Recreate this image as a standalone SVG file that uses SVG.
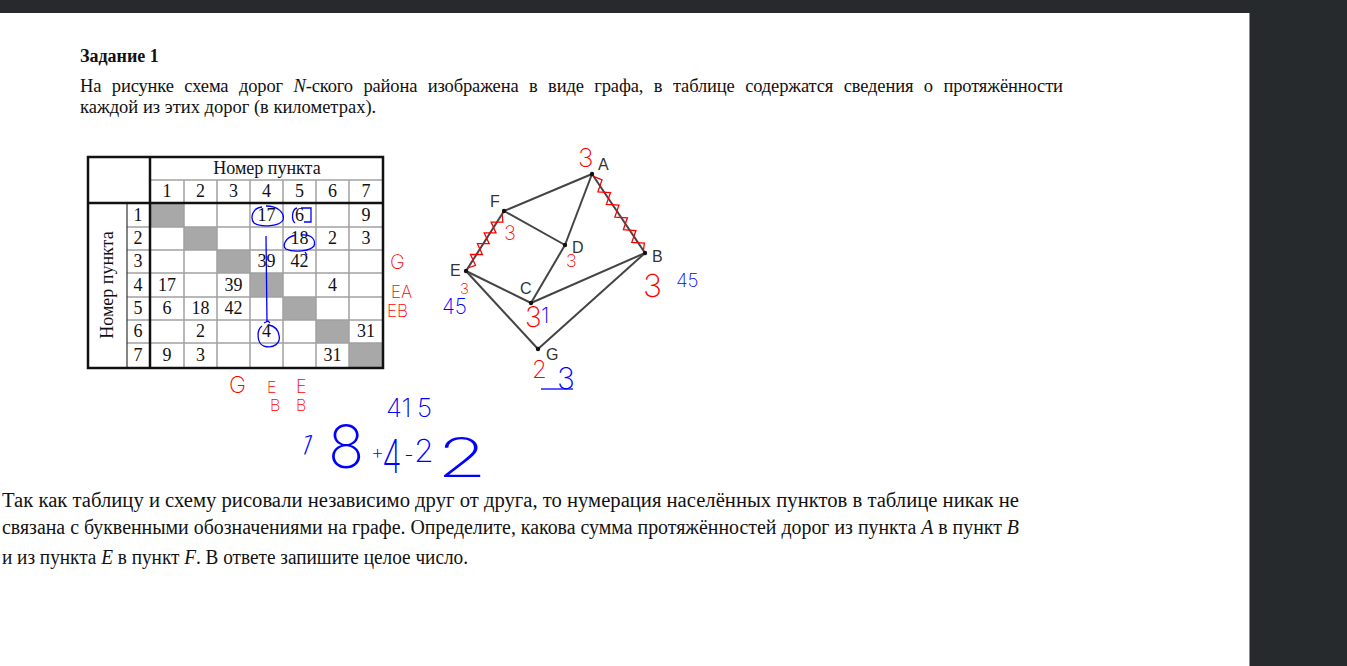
<svg xmlns="http://www.w3.org/2000/svg" width="1347" height="666" viewBox="0 0 1347 666">
<style>
.serif{font-family:"Liberation Serif","Times New Roman",serif;fill:#111}
.tc{font-family:"Liberation Serif","Times New Roman",serif;font-size:18px;fill:#111;text-anchor:middle}
.lbl{font-family:"Liberation Sans",Arial,sans-serif;font-size:16px;fill:#333}
.edge{stroke:#444;stroke-width:2;fill:none}
.thin{stroke:#a0a0a0;stroke-width:1.5}
.thick{stroke:#111;stroke-width:2.5}
.hr{font-family:"Inter","DejaVu Sans",sans-serif;font-weight:200;fill:#ff0000}
.hb{font-family:"Inter","DejaVu Sans",sans-serif;font-weight:200;fill:#0000ff}
.rs{stroke:#ff0000;stroke-width:1.3;fill:none}
.bs{stroke:#0000ff;stroke-width:1.3;fill:none}
.dark{fill:#262a2d}
</style>
<rect width="1347" height="666" fill="#ffffff"/>
<rect class="dark" x="0" y="0" width="1347" height="13"/>
<rect class="dark" x="1250" y="0" width="97" height="666"/>
<line x1="1249.5" y1="13" x2="1249.5" y2="666" stroke="#8a8a8a" stroke-width="1"/>

<g id="header-text">
<text class="serif" x="80" y="62" font-size="18" font-weight="bold">Задание 1</text>
<text class="serif" x="80" y="92" font-size="18.5" textLength="983" lengthAdjust="spacing" word-spacing="6">На рисунке схема дорог <tspan font-style="italic">N</tspan>-ского района изображена в виде графа, в таблице содержатся сведения о протяжённости</text>
<text class="serif" x="80" y="113" font-size="18.5">каждой из этих дорог (в километрах).</text>
</g>

<g id="table">
<g fill="#a8a8a8">
<rect x="150" y="203" width="34" height="24"/>
<rect x="184" y="227" width="33" height="23"/>
<rect x="217" y="250" width="33" height="23"/>
<rect x="250" y="273" width="33" height="24"/>
<rect x="283" y="297" width="33" height="23"/>
<rect x="316" y="320" width="33" height="23"/>
<rect x="349" y="343" width="34" height="25"/>
</g>
<g class="thin">
<line x1="150" y1="180" x2="383" y2="180"/>
<line x1="127" y1="227" x2="383" y2="227"/>
<line x1="127" y1="250" x2="383" y2="250"/>
<line x1="127" y1="273" x2="383" y2="273"/>
<line x1="127" y1="297" x2="383" y2="297"/>
<line x1="127" y1="320" x2="383" y2="320"/>
<line x1="127" y1="343" x2="383" y2="343"/>
<line x1="184" y1="180" x2="184" y2="368"/>
<line x1="217" y1="180" x2="217" y2="368"/>
<line x1="250" y1="180" x2="250" y2="368"/>
<line x1="283" y1="180" x2="283" y2="368"/>
<line x1="316" y1="180" x2="316" y2="368"/>
<line x1="349" y1="180" x2="349" y2="368"/>
</g>
<line x1="127" y1="203" x2="127" y2="368" stroke="#333" stroke-width="1.2"/>
<g class="thick">
<rect x="88" y="157" width="295" height="211" fill="none"/>
<line x1="150" y1="157" x2="150" y2="368"/>
<line x1="88" y1="203" x2="383" y2="203"/>
</g>
<text class="tc" x="267" y="174">Номер пункта</text>
<text class="tc" transform="translate(113,285) rotate(-90)">Номер пункта</text>
<g class="tc">
<text x="167" y="197">1</text><text x="200.5" y="197">2</text><text x="233.5" y="197">3</text><text x="266.5" y="197">4</text><text x="299.5" y="197">5</text><text x="332.5" y="197">6</text><text x="366" y="197">7</text>
<text x="138" y="221">1</text><text x="138" y="244">2</text><text x="138" y="267">3</text><text x="138" y="291">4</text><text x="138" y="314">5</text><text x="138" y="337">6</text><text x="138" y="361">7</text>
<text x="266.5" y="221">17</text><text x="299.5" y="221">6</text><text x="366" y="221">9</text>
<text x="299.5" y="244">18</text><text x="332.5" y="244">2</text><text x="366" y="244">3</text>
<text x="266.5" y="267">39</text><text x="299.5" y="267">42</text>
<text x="167" y="291">17</text><text x="233.5" y="291">39</text><text x="332.5" y="291">4</text>
<text x="167" y="314">6</text><text x="200.5" y="314">18</text><text x="233.5" y="314">42</text>
<text x="200.5" y="337">2</text><text x="266.5" y="337">4</text><text x="366" y="337">31</text>
<text x="167" y="361">9</text><text x="200.5" y="361">3</text><text x="332.5" y="361">31</text>
</g>
</g>

<g id="table-annotations">
<path class="bs" d="M262 207 C252 208 250 218 254 223 C262 228 280 226 283 220 C285 213 278 206 266 206"/>
<path class="bs" d="M297 208 C292 209 291 220 295 223 M301 208 L311 208 L311 222 L304 222"/>
<path class="bs" d="M296 235 C285 237 282 246 286 249 C294 253 310 251 314 246 C316 240 312 234 301 235 M305 252 L307 255"/>
<line class="bs" x1="266" y1="236" x2="267" y2="322"/>
<path class="bs" d="M264 323 L268 321 L270 323 M262 326 C256 330 257 344 264 346 C274 349 281 343 279 335 C278 330 274 326 269 325"/>
<text class="hr" x="390" y="269" font-size="20">G</text>
<text class="hr" x="391" y="298" font-size="17">EA</text>
<text class="hr" x="387" y="317" font-size="17">EB</text>
<text class="hr" x="229" y="393" font-size="23">G</text>
<text class="hr" x="267" y="393" font-size="16">E</text>
<text class="hr" x="270" y="411" font-size="16">B</text>
<text class="hr" x="296" y="393" font-size="18">E</text>
<text class="hr" x="296" y="411" font-size="16">B</text>
</g>

<g id="connectors">
<line class="edge" x1="592" y1="174" x2="504" y2="211"/>
<line class="edge" x1="592" y1="174" x2="565" y2="245"/>
<line class="edge" x1="592" y1="174" x2="645" y2="253"/>
<line class="edge" x1="504" y1="211" x2="565" y2="245"/>
<line class="edge" x1="504" y1="211" x2="466" y2="271"/>
<line class="edge" x1="565" y1="245" x2="531" y2="303"/>
<line class="edge" x1="466" y1="271" x2="531" y2="303"/>
<line class="edge" x1="466" y1="271" x2="538" y2="349"/>
<line class="edge" x1="531" y1="303" x2="645" y2="253"/>
<line class="edge" x1="538" y1="349" x2="645" y2="253"/>
</g>

<g id="node-A"><circle cx="592" cy="174" r="2.2" fill="#111"/><text class="lbl" x="598" y="170">A</text></g>
<g id="node-F"><circle cx="504" cy="211" r="2.2" fill="#111"/><text class="lbl" x="490" y="207">F</text></g>
<g id="node-D"><circle cx="565" cy="245" r="2.2" fill="#111"/><text class="lbl" x="572" y="253">D</text></g>
<g id="node-B"><circle cx="645" cy="253" r="2.2" fill="#111"/><text class="lbl" x="652" y="262">B</text></g>
<g id="node-E"><circle cx="466" cy="271" r="2.2" fill="#111"/><text class="lbl" x="450" y="276">E</text></g>
<g id="node-C"><circle cx="531" cy="303" r="2.2" fill="#111"/><text class="lbl" x="520" y="294">C</text></g>
<g id="node-G"><circle cx="538" cy="349" r="2.2" fill="#111"/><text class="lbl" x="546" y="360">G</text></g>

<g id="graph-annotations">
<polyline class="rs" points="593.6,176.4 602,179.9 597.9,191.8 610.5,192.5 606.4,204.4 618.9,205.2 614.9,217.1 627.4,217.8 623.4,229.7 635.9,230.5 631.8,242.3 644.4,243.1 643.4,250.6"/>
<polyline class="rs" points="502.1,214 502.9,222.1 491.1,222.1 496,232.9 484.2,232.9 489.2,243.7 477.4,243.7 482.4,254.5 470.5,254.5 475.5,265.3 467.9,268"/>
<text class="hr" x="578" y="167" font-size="26">3</text>
<text class="hr" x="504" y="240" font-size="20">3</text>
<text class="hr" x="566" y="267" font-size="18">3</text>
<text class="hr" x="643" y="297" font-size="32">3</text>
<text class="hb" x="676" y="287" font-size="19">45</text>
<text class="hr" x="460" y="294" font-size="15">3</text>
<text class="hb" x="442" y="314" font-size="21">45</text>
<text class="hr" x="525" y="327" font-size="28">3</text>
<text class="hb" x="541" y="323" font-size="22">1</text>
<text class="hr" x="532" y="378" font-size="24">2</text>
<text class="hb" x="557" y="389" font-size="30">3</text>
<line class="bs" x1="541" y1="389" x2="573" y2="389"/>
</g>

<g id="calc-annotations">
<text class="hb" x="386" y="417" font-size="26">41<tspan x="417">5</tspan></text>
<text class="hb" transform="translate(298,452) rotate(20)" font-size="28">1</text>
<text class="hb" x="328" y="468" font-size="60">8</text>
<text class="hb" x="371" y="459" font-size="20">+</text>
<text class="hb" transform="translate(382,473) scale(0.7,1)" font-size="46">4</text>
<text class="hb" x="404" y="462" font-size="22">-</text>
<text class="hb" x="414" y="462" font-size="32">2</text>
<text class="hb" transform="translate(437,477) scale(1.5,1)" font-size="54">2</text>
</g>

<g id="footer-text">
<text class="serif" x="2" y="507" font-size="20" textLength="1017" lengthAdjust="spacingAndGlyphs">Так как таблицу и схему рисовали независимо друг от друга, то нумерация населённых пунктов в таблице никак не</text>
<text class="serif" x="2" y="534" font-size="20" textLength="1017" lengthAdjust="spacingAndGlyphs">связана с буквенными обозначениями на графе. Определите, какова сумма протяжённостей дорог из пункта <tspan font-style="italic">A</tspan> в пункт <tspan font-style="italic">B</tspan></text>
<text class="serif" x="2" y="564" font-size="20" textLength="466" lengthAdjust="spacingAndGlyphs">и из пункта <tspan font-style="italic">E</tspan> в пункт <tspan font-style="italic">F</tspan>. В ответе запишите целое число.</text>
</g>
</svg>
